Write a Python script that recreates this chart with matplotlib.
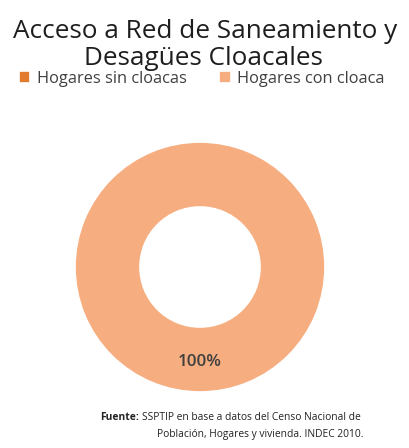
import matplotlib
matplotlib.use('Agg')
import matplotlib.pyplot as plt

# data
labels = ['Hogares sin cloacas', 'Hogares con cloaca']
values = [0, 100]
colors = ['#E07B2F', '#F6AD80']

title1 = 'Acceso a Red de Saneamiento y'
title2 = 'Desagües Cloacales'
fuente1 = 'SSPTIP en base a datos del Censo Nacional de'
fuente2 = 'Población, Hogares y vivienda. INDEC 2010.'

plt.rcParams['font.family'] = ['Open Sans', 'DejaVu Sans']

W, H = 410, 448
fig = plt.figure(figsize=(W / 100, H / 100), dpi=100)
renderer = fig.canvas.get_renderer()


def fit(txt, target):
    # scale the font so the text is target px wide
    for _ in range(3):
        w = txt.get_window_extent(renderer).width
        txt.set_fontsize(txt.get_fontsize() * target / w)
    return txt


ax = fig.add_axes([75 / W, 56 / H, 250 / W, 250 / H])


def pct(p):
    return '%d%%' % round(p) if p > 0.5 else ''


wedges, texts, autotexts = ax.pie(values, colors=colors, startangle=90,
                                  counterclock=False, radius=1.0,
                                  autopct=pct, pctdistance=0.76,
                                  wedgeprops=dict(width=0.52, edgecolor='white', linewidth=1.2))
for t in autotexts:
    t.set_color('#404040')
    t.set_fontweight('semibold')
    fit(t, 44)
ax.set_xlim(-1, 1)
ax.set_ylim(-1, 1)
ax.set_aspect('equal')
ax.axis('off')

t1 = fig.text(205 / W, 1 - 38 / H, title1, ha='center', va='baseline', fontsize=20, color='#1e1e1e')
fit(t1, 384)
t2 = fig.text(203 / W, 1 - 65 / H, title2, ha='center', va='baseline', fontsize=t1.get_fontsize(), color='#1e1e1e')

probe = fig.text(0, 0, labels[0], fontsize=10)
fit(probe, 150)
leg_size = probe.get_fontsize()
probe.remove()

fig.legend(wedges, labels, loc='center left', bbox_to_anchor=(12 / W, 1 - 79 / H), ncol=2,
           frameon=False, fontsize=leg_size, handlelength=0.7, handleheight=0.7,
           handletextpad=0.4, columnspacing=2.0, labelcolor='#404040', borderaxespad=0)

f0 = fig.text(100 / W, 1 - 417 / H, 'Fuente:', ha='left', va='center', fontsize=8, fontweight='bold', color='#222222')
f1 = fig.text(137 / W, 1 - 417 / H, fuente1, ha='left', va='center', fontsize=8, color='#222222')
fit(f1, 218)
f0.set_fontsize(f1.get_fontsize())
x1 = (f0.get_window_extent(renderer).x1 + 3) / W
f1.set_x(x1)
f2 = fig.text(157 / W, 1 - 434 / H, fuente2, ha='left', va='center', fontsize=f1.get_fontsize(), color='#222222')

fig.savefig('out.png', dpi=100)
